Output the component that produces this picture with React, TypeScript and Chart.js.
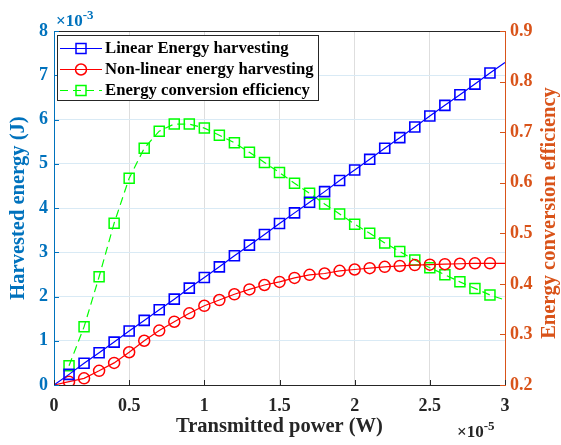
import React, { useEffect, useRef } from 'react';
import { Chart, registerables } from 'chart.js';

Chart.register(...registerables);

// ---- Data (x in units of 1e-5 W) ----
const xValues = [0, 0.1, 0.2, 0.3, 0.4, 0.5, 0.6, 0.7, 0.8, 0.9, 1.0, 1.1, 1.2, 1.3, 1.4, 1.5, 1.6, 1.7, 1.8, 1.9, 2.0, 2.1, 2.2, 2.3, 2.4, 2.5, 2.6, 2.7, 2.8, 2.9, 3.0];
// Harvested energy (units of 1e-3 J)
const linearEnergy = [0, 0.24, 0.49, 0.73, 0.97, 1.22, 1.46, 1.70, 1.94, 2.19, 2.43, 2.67, 2.92, 3.16, 3.40, 3.65, 3.89, 4.13, 4.37, 4.62, 4.86, 5.10, 5.35, 5.59, 5.83, 6.08, 6.32, 6.56, 6.80, 7.05, 7.29];
const nonlinearEnergy = [0, 0.075, 0.15, 0.32, 0.50, 0.74, 1.00, 1.23, 1.43, 1.62, 1.79, 1.92, 2.05, 2.16, 2.26, 2.33, 2.42, 2.49, 2.52, 2.58, 2.61, 2.64, 2.67, 2.69, 2.71, 2.72, 2.73, 2.74, 2.75, 2.75, 2.75];
// Energy conversion efficiency
const efficiency = [null, 0.238, 0.315, 0.414, 0.520, 0.609, 0.668, 0.702, 0.716, 0.716, 0.708, 0.694, 0.679, 0.660, 0.640, 0.620, 0.599, 0.579, 0.558, 0.538, 0.518, 0.500, 0.481, 0.464, 0.447, 0.432, 0.418, 0.404, 0.391, 0.378, 0.368];

const xTicks = [0, 0.5, 1, 1.5, 2, 2.5, 3];
const leftTicks = [0, 1, 2, 3, 4, 5, 6, 7, 8];
const rightTicks = [0.2, 0.3, 0.4, 0.5, 0.6, 0.7, 0.8, 0.9];

const seriesNames = ['Linear Energy harvesting', 'Non-linear energy harvesting', 'Energy conversion efficiency'];
const xTitle = 'Transmitted power (W)';
const leftTitle = 'Harvested energy (J)';
const rightTitle = 'Energy conversion efficiency';
const leftExponent = '-3';
const xExponent = '-5';

const FONT = "'Liberation Serif', 'Times New Roman', serif";
const BLUE_AX = '#0072BD';
const ORANGE_AX = '#D95319';
const DARK = '#262626';

const toPoints = (ys: (number | null)[]) => xValues.map((x, i) => ({ x, y: ys[i] }));
const edgeHidden = (r: number) => (ctx: any) =>
  ctx.dataIndex === 0 || ctx.dataIndex === xValues.length - 1 ? 0 : r;

function drawMarker(ctx: CanvasRenderingContext2D, style: string, x: number, y: number, color: string) {
  ctx.save();
  ctx.setLineDash([]);
  ctx.strokeStyle = color;
  ctx.lineWidth = 1.5;
  ctx.beginPath();
  if (style === 'circle') {
    ctx.arc(x, y, 5.5, 0, Math.PI * 2);
  } else {
    ctx.rect(x - 5, y - 5, 10, 10);
  }
  ctx.stroke();
  ctx.restore();
}

const overlayPlugin = {
  id: 'overlay',
  afterDraw(chart: any) {
    const ctx: CanvasRenderingContext2D = chart.ctx;
    const { left, right, top, bottom } = chart.chartArea;
    const xs = chart.scales.x;
    const yl = chart.scales.y;
    const yr = chart.scales.y1;
    ctx.save();
    // top border
    ctx.strokeStyle = DARK;
    ctx.lineWidth = 1;
    ctx.beginPath();
    ctx.moveTo(left, top + 0.5);
    ctx.lineTo(right, top + 0.5);
    ctx.stroke();
    // inward ticks
    ctx.beginPath();
    xTicks.forEach((v) => {
      const px = Math.round(xs.getPixelForValue(v)) + 0.5;
      ctx.moveTo(px, bottom);
      ctx.lineTo(px, bottom - 5);
    });
    ctx.stroke();
    ctx.strokeStyle = BLUE_AX;
    ctx.beginPath();
    leftTicks.forEach((v) => {
      const py = Math.round(yl.getPixelForValue(v)) + 0.5;
      ctx.moveTo(left, py);
      ctx.lineTo(left + 5, py);
    });
    ctx.stroke();
    ctx.strokeStyle = ORANGE_AX;
    ctx.beginPath();
    rightTicks.forEach((v) => {
      const py = Math.round(yr.getPixelForValue(v)) + 0.5;
      ctx.moveTo(right, py);
      ctx.lineTo(right - 5, py);
    });
    ctx.stroke();

    // right axis title (reads bottom to top)
    ctx.save();
    ctx.translate(550, 213);
    ctx.rotate(-Math.PI / 2);
    ctx.fillStyle = ORANGE_AX;
    ctx.font = `bold 20.5px ${FONT}`;
    ctx.textAlign = 'center';
    ctx.textBaseline = 'middle';
    ctx.fillText(rightTitle, 0, 0);
    ctx.restore();

    // exponent labels
    const drawExp = (x: number, baseY: number, exp: string, color: string) => {
      ctx.fillStyle = color;
      ctx.textAlign = 'left';
      ctx.textBaseline = 'alphabetic';
      ctx.font = `bold 17px ${FONT}`;
      const base = '\u00D710';
      ctx.fillText(base, x, baseY);
      const w = ctx.measureText(base).width;
      ctx.font = `bold 13px ${FONT}`;
      ctx.fillText(exp, x + w, baseY - 7);
    };
    drawExp(56, 26, leftExponent, BLUE_AX);
    drawExp(457, 437, xExponent, DARK);

    // legend
    const bx = 57.5, by = 35.5, bw = 261, bh = 65;
    ctx.fillStyle = '#ffffff';
    ctx.fillRect(bx, by, bw, bh);
    ctx.strokeStyle = DARK;
    ctx.lineWidth = 1;
    ctx.strokeRect(bx, by, bw, bh);
    const rows = [48, 69, 90];
    const colors = ['#0000FF', '#FF0000', '#00FF00'];
    const markers = ['rect', 'circle', 'rect'];
    rows.forEach((ry, i) => {
      ctx.save();
      ctx.strokeStyle = colors[i];
      ctx.lineWidth = 1.2;
      if (i === 2) ctx.setLineDash([8, 5]);
      ctx.beginPath();
      ctx.moveTo(60, ry + 0.5);
      ctx.lineTo(102, ry + 0.5);
      ctx.stroke();
      ctx.restore();
      drawMarker(ctx, markers[i], 81, ry + 0.5, colors[i]);
      ctx.fillStyle = '#000000';
      ctx.font = `bold 16.7px ${FONT}`;
      ctx.textAlign = 'left';
      ctx.textBaseline = 'middle';
      ctx.fillText(seriesNames[i], 105, ry + 1);
    });
    ctx.restore();
  },
};

export default function App() {
  const canvasRef = useRef<HTMLCanvasElement | null>(null);

  useEffect(() => {
    if (!canvasRef.current) return;
    const tickFont = { family: FONT, size: 18, weight: 'bold' as const };
    const titleFont = { family: FONT, size: 20.5, weight: 'bold' as const };
    const chart = new Chart(canvasRef.current, {
      type: 'line',
      data: {
        datasets: [
          {
            label: seriesNames[0],
            data: toPoints(linearEnergy),
            yAxisID: 'y',
            borderColor: '#0000FF',
            borderWidth: 1.2,
            pointStyle: 'rect',
            pointRadius: edgeHidden(7.07),
            pointBorderWidth: 1.6,
            pointBorderColor: '#0000FF',
            pointBackgroundColor: 'rgba(0,0,0,0)',
            tension: 0,
          },
          {
            label: seriesNames[1],
            data: toPoints(nonlinearEnergy),
            yAxisID: 'y',
            borderColor: '#FF0000',
            borderWidth: 1.2,
            pointStyle: 'circle',
            pointRadius: edgeHidden(5.5),
            pointBorderWidth: 1.5,
            pointBorderColor: '#FF0000',
            pointBackgroundColor: 'rgba(0,0,0,0)',
            tension: 0,
          },
          {
            label: seriesNames[2],
            data: toPoints(efficiency),
            yAxisID: 'y1',
            borderColor: '#00FF00',
            borderWidth: 1.2,
            borderDash: [8, 5],
            pointStyle: 'rect',
            pointRadius: edgeHidden(7.07),
            pointBorderWidth: 1.5,
            pointBorderColor: '#00FF00',
            pointBackgroundColor: 'rgba(0,0,0,0)',
            tension: 0,
            spanGaps: false,
          },
        ],
      },
      options: {
        responsive: false,
        animation: false,
        devicePixelRatio: 1,
        layout: { padding: { top: 31, left: 0, right: 0, bottom: 0 } },
        plugins: { legend: { display: false }, tooltip: { enabled: false } },
        scales: {
          x: {
            type: 'linear',
            min: 0,
            max: 3,
            afterBuildTicks: (s: any) => { s.ticks = xTicks.map((v) => ({ value: v })); },
            afterFit: (s: any) => { s.height = 60; },
            ticks: { color: DARK, font: tickFont, padding: 11, maxRotation: 0, autoSkip: false, callback: (v: any) => String(v) },
            grid: { color: '#dedede', drawTicks: false, lineWidth: 1 },
            border: { color: DARK, width: 1 },
            title: { display: true, text: xTitle, color: DARK, font: titleFont, padding: { top: 0, bottom: 6 } },
          },
          y: {
            type: 'linear',
            position: 'left',
            min: 0,
            max: 8,
            afterBuildTicks: (s: any) => { s.ticks = leftTicks.map((v) => ({ value: v })); },
            afterFit: (s: any) => { s.width = 54; },
            ticks: { color: BLUE_AX, font: tickFont, padding: 6, callback: (v: any) => String(v) },
            grid: { color: '#d9eaf5', drawTicks: false, lineWidth: 1 },
            border: { color: BLUE_AX, width: 1 },
            title: { display: true, text: leftTitle, color: BLUE_AX, font: titleFont, padding: { top: 6, bottom: 0 } },
          },
          y1: {
            type: 'linear',
            position: 'right',
            min: 0.2,
            max: 0.9,
            afterBuildTicks: (s: any) => { s.ticks = rightTicks.map((v) => ({ value: v })); },
            afterFit: (s: any) => { s.width = 56; },
            ticks: { color: ORANGE_AX, font: tickFont, padding: 5, callback: (v: any) => Number(v).toFixed(1) },
            grid: { drawOnChartArea: false, drawTicks: false },
            border: { color: ORANGE_AX, width: 1 },
          },
        },
      },
      plugins: [overlayPlugin],
    });
    return () => chart.destroy();
  }, []);

  return (
    <div style={{ position: 'absolute', left: 0, top: 0, width: 561, height: 445, background: '#fff' }}>
      <canvas ref={canvasRef} width={561} height={445} style={{ display: 'block', width: 561, height: 445 }} />
    </div>
  );
}
